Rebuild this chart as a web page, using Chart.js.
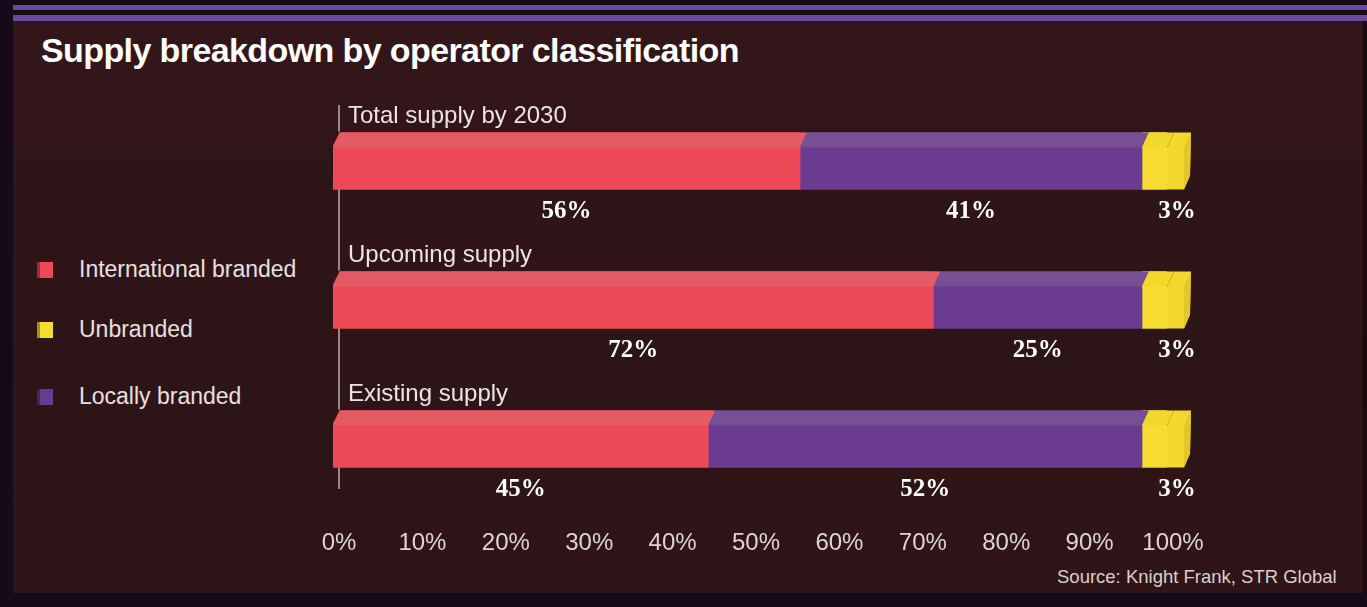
<!DOCTYPE html>
<html>
<head>
<meta charset="utf-8">
<script src="https://cdn.jsdelivr.net/npm/chart.js@4.4.1/dist/chart.umd.min.js"></script>
<style>
  html, body { margin: 0; padding: 0; background: #170a18; width: 1367px; height: 607px; overflow: hidden; }
  #stripe1, #stripe2 { position: absolute; left: 13px; right: 0; background: #6a48a0; }
  #stripe1 { top: 5px; height: 5px; }
  #stripe2 { top: 15px; height: 6px; }
  #panel { position: absolute; left: 13px; top: 21px; width: 1350px; height: 572px;
           background: linear-gradient(180deg, #331619 0%, #2d1417 60%, #2f1518 100%); }
  #title { position: absolute; left: 41px; top: 31px; font: bold 34px "Liberation Sans", Arial, sans-serif;
           color: #ffffff; letter-spacing: -0.6px; }
  #legend { position: absolute; left: 37px; top: 0; font: 23px "Liberation Sans", Arial, sans-serif; color: #e8e0e0; }
  .item { position: absolute; left: 0; white-space: nowrap; }
  .box { position: absolute; left: 0; width: 16px; height: 16px; border-left: 3px solid rgba(0,0,0,0.35); box-sizing: border-box; }
  .lbl { position: absolute; left: 42px; top: -14px; }
  #source { position: absolute; left: 1057px; top: 566px; font: 18.5px "Liberation Sans", Arial, sans-serif; color: #d8d0d0; }
  canvas { position: absolute; left: 0; top: 0; }
</style>
</head>
<body>
<div id="stripe1"></div>
<div id="stripe2"></div>
<div id="panel"></div>
<div id="title">Supply breakdown by operator classification</div>
<div id="legend"></div>
<div id="source">Source: Knight Frank, STR Global</div>
<canvas id="supply" width="1367" height="607"></canvas>
<script>
// data
const categories = ['Total supply by 2030', 'Upcoming supply', 'Existing supply'];
const seriesNames = ['International branded', 'Locally branded', 'Unbranded'];
const international = [56, 72, 45];
const locally = [41, 25, 52];
const unbranded = [3, 3, 3];
const legendOrder = ['International branded', 'Unbranded', 'Locally branded'];
const legendTops = [270, 330, 397];

const frontColors = ['#ec4a57', '#6b3a91', '#f5dc2f'];
const topColors = ['#e55b65', '#764f94', '#f2d82c'];

// legend, built from the series names
const legendEl = document.getElementById('legend');
legendOrder.forEach((name, i) => {
  const idx = seriesNames.indexOf(name);
  const item = document.createElement('div');
  item.className = 'item';
  item.style.top = legendTops[i] + 'px';
  item.innerHTML = '<div class="box" style="top:-8px;background:' + frontColors[idx] + '"></div><div class="lbl">' + name + '</div>';
  legendEl.appendChild(item);
});

const barExtras = {
  id: 'barExtras',
  beforeDatasetsDraw(chart) {
    // thin axis line, drawn under the bars
    const c = chart.ctx;
    const area = chart.chartArea;
    const yScale = chart.scales.y;
    const first = yScale.getPixelForValue(0);
    const end = yScale.getPixelForValue(categories.length - 1);
    c.save();
    c.strokeStyle = '#b8b0b0';
    c.lineWidth = 1.5;
    c.beginPath();
    c.moveTo(area.left + 6, first - 56);
    c.lineTo(area.left + 6, end + 50);
    c.stroke();
    c.restore();
  },
  afterDatasetsDraw(chart) {
    const c = chart.ctx;
    const area = chart.chartArea;
    const yScale = chart.scales.y;
    const last = chart.data.datasets.length - 1;
    c.save();

    chart.data.datasets.forEach((ds, di) => {
      const meta = chart.getDatasetMeta(di);
      meta.data.forEach((bar, i) => {
        const h = bar.height;
        const y0 = bar.y - h / 2;
        const y1 = bar.y + h / 2;
        const left = Math.min(bar.base, bar.x);
        const right = Math.max(bar.base, bar.x);
        // top face
        c.fillStyle = topColors[di];
        c.beginPath();
        c.moveTo(left + 7, y0);
        c.lineTo(right + 7, y0);
        c.lineTo(right, y0 + 15);
        c.lineTo(left, y0 + 15);
        c.closePath();
        c.fill();
        if (di === 0) {
          c.fillStyle = '#2f1518';
          c.beginPath();
          c.moveTo(left - 1, y0 - 1);
          c.lineTo(left + 7, y0 - 1);
          c.lineTo(left - 1, y0 + 15);
          c.closePath();
          c.fill();
        }
        if (di === last) {
          // side face of the bar end
          c.fillStyle = '#f3d92d';
          c.beginPath();
          c.moveTo(right, y0 + 15);
          c.lineTo(right + 7, y0);
          c.lineTo(right + 24, y0);
          c.lineTo(right + 23, y1 - 14);
          c.lineTo(right + 17, y1);
          c.lineTo(right, y1);
          c.closePath();
          c.fill();
          c.fillStyle = '#e3c628';
          c.beginPath();
          c.moveTo(right + 17, y0 + 15);
          c.lineTo(right + 24, y0);
          c.lineTo(right + 23, y1 - 14);
          c.lineTo(right + 17, y1);
          c.closePath();
          c.fill();
        }
        // value label under the segment
        const cx = di === last ? right + 10 : (left + right) / 2;
        c.fillStyle = '#ffffff';
        c.font = 'bold 25px "Liberation Serif", "DejaVu Serif", serif';
        c.textAlign = 'center';
        c.textBaseline = 'middle';
        c.fillText(ds.data[i] + '%', cx, y1 + 22);
      });
    });

    // category titles above each bar
    c.font = '24px "Liberation Sans", Arial, sans-serif';
    c.fillStyle = '#ece4e4';
    c.textAlign = 'left';
    c.textBaseline = 'middle';
    categories.forEach((cat, i) => {
      const y = yScale.getPixelForValue(i);
      c.fillText(cat, area.left + 15, y - 28.5 - 16);
    });
    c.restore();
  }
};

const ctx = document.getElementById('supply').getContext('2d');
const chart = new Chart(ctx, {
  type: 'bar',
  data: {
    labels: categories,
    datasets: [
      { label: seriesNames[0], data: international, backgroundColor: frontColors[0] },
      { label: seriesNames[1], data: locally, backgroundColor: frontColors[1] },
      { label: seriesNames[2], data: unbranded, backgroundColor: frontColors[2] },
    ]
  },
  options: {
    indexAxis: 'y',
    responsive: false,
    animation: false,
    layout: { padding: { left: 333, right: 200, top: 91.5, bottom: 56.5 } },
    datasets: { bar: { barThickness: 57, borderWidth: 0 } },
    plugins: { legend: { display: false }, tooltip: { enabled: false } },
    scales: {
      x: {
        stacked: true,
        min: 0,
        max: 100,
        afterFit: (s) => { s.height = 42; },
        grid: { display: false },
        border: { display: false },
        ticks: {
          stepSize: 10,
          padding: 12,
          labelOffset: 6,
          color: '#ddd5d5',
          font: { family: '"Liberation Sans", Arial, sans-serif', size: 24 },
          callback: (v) => v + '%'
        }
      },
      y: {
        stacked: true,
        display: false
      }
    }
  },
  plugins: [barExtras]
});
</script>
</body>
</html>
